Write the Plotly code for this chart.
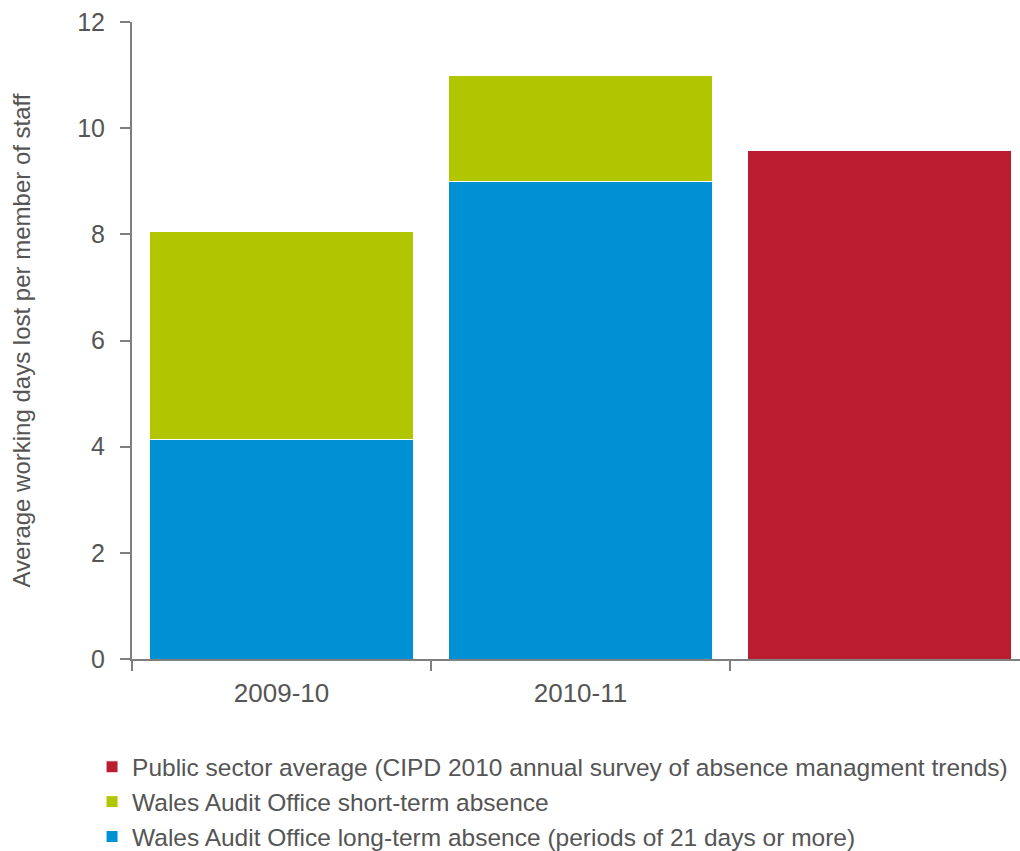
import plotly.graph_objects as go

# Absence data, working days lost per member of staff
periods = ["2009-10", "2010-11", " "]
long_term = [4.13, 9.0, None]
short_term = [3.93, 2.0, None]
public_avg = [None, None, 9.58]

names = [
    "Wales Audit Office long-term absence (periods of 21 days or more)",
    "Wales Audit Office short-term absence",
    "Public sector average (CIPD 2010 annual survey of absence managment trends)",
]
colors = ["#0091D5", "#B2C600", "#BA1C30"]
y_ticks = [0, 2, 4, 6, 8, 10, 12]

fig = go.Figure()
for vals, name, col in zip([long_term, short_term, public_avg], names, colors):
    fig.add_trace(go.Bar(
        x=periods, y=vals, name=name,
        marker=dict(color=col, line=dict(color="white", width=1)),
        width=0.88,
    ))

font_family = "Liberation Sans, Arial, sans-serif"
text_col = "#555555"
fig.update_layout(
    barmode="stack",
    width=1020, height=851,
    margin=dict(l=132, r=0, t=22, b=192, autoexpand=False),
    plot_bgcolor="white", paper_bgcolor="white",
    font=dict(family=font_family, size=24, color=text_col),
    showlegend=True,
    legend=dict(
        traceorder="reversed",
        x=-0.045, xanchor="left",
        y=-0.134, yanchor="top",
        font=dict(size=24.5, color=text_col),
        tracegroupgap=0,
    ),
    xaxis=dict(
        type="category",
        range=[-0.5, 2.47],
        showline=True, linecolor="#7f7f7f", linewidth=2,
        ticks="outside", tickson="boundaries", ticklen=10,
        tickcolor="#7f7f7f", tickwidth=2,
        tickfont=dict(size=26, color=text_col),
        ticklabelstandoff=10,
        showgrid=False,
    ),
    yaxis=dict(
        range=[0, 12], tickvals=y_ticks,
        showline=True, linecolor="#7f7f7f", linewidth=2,
        ticks="outside", ticklen=10, tickcolor="#7f7f7f", tickwidth=2,
        tickfont=dict(size=25, color=text_col),
        ticklabelstandoff=10,
        showgrid=False, zeroline=False,
        title=dict(text="Average working days lost per member of staff",
                   font=dict(size=24, color=text_col), standoff=40),
    ),
)

fig.write_html("out.html")
